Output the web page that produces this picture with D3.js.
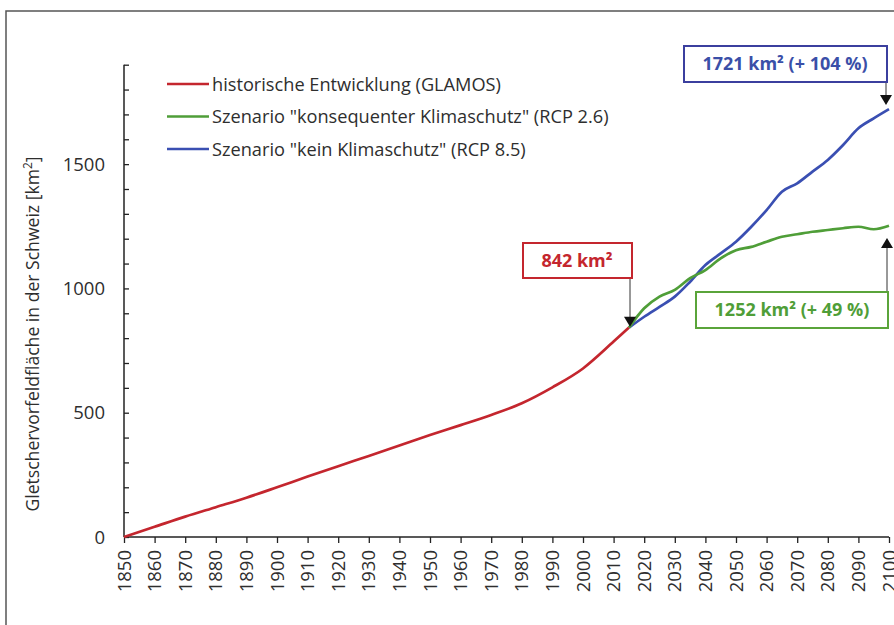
<!DOCTYPE html>
<html><head><meta charset="utf-8">
<script src="https://cdn.jsdelivr.net/npm/d3@7/dist/d3.min.js"></script>
<style>body{margin:0;background:#fff}svg{display:block}</style>
</head><body><svg id="c" width="894" height="625"></svg>
<script>
const histYears = [1850,1860,1870,1880,1890,1900,1910,1920,1930,1940,1950,1960,1970,1980,1990,2000,2010,2015];
const histValues = [0,41,82,120,158,200,243,285,326,368,410,450,491,538,602,678,786,842];
const scenYears = [2015,2020,2025,2030,2035,2040,2045,2050,2055,2060,2065,2070,2075,2080,2085,2090,2095,2100];
const rcp26 = [842,920,967,994,1041,1074,1121,1154,1167,1188,1208,1218,1228,1235,1242,1248,1238,1252];
const rcp85 = [842,886,926,967,1027,1094,1141,1188,1248,1315,1389,1423,1470,1517,1577,1644,1684,1721];
const xTicks = d3.range(1850, 2101, 10);
const yTicks = d3.range(0, 1901, 100);
const yLabels = [0,500,1000,1500];
const legendLabels = ['historische Entwicklung (GLAMOS)','Szenario "konsequenter Klimaschutz" (RCP 2.6)','Szenario "kein Klimaschutz" (RCP 8.5)'];
const colors = ['#c4262e','#4f9e38','#3a4fb2'];
const yTitle = 'Gletschervorfeldfläche in der Schweiz [km';

const svg = d3.select('#c');
const F = '"Open Sans", sans-serif';
const x = d3.scaleLinear().domain([1850,2100]).range([124,889]);
const y = d3.scaleLinear().domain([0,1900]).range([537,64.7]);

svg.append('path').attr('d','M6,625 V11 H894').attr('fill','none').attr('stroke','#555').attr('stroke-width',1.5);

const ya = svg.append('g').attr('transform','translate(124,0)')
  .call(d3.axisRight(y).tickValues(yTicks).tickSize(5).tickFormat(''));
ya.select('.domain').attr('stroke','#222').attr('stroke-width',1.5).attr('d','M0,'+y(1900)+'V'+y(0));
ya.selectAll('.tick line').attr('stroke','#222').attr('stroke-width',1.3);
svg.append('g').selectAll('text').data(yLabels).join('text')
  .attr('x',105).attr('y',d=>y(d)).attr('dy','0.36em').attr('text-anchor','end')
  .attr('font-family',F).attr('font-size',18.5).attr('fill','#2e2e2e').text(d=>d);

const xa = svg.append('g').attr('transform','translate(0,537)')
  .call(d3.axisBottom(x).tickValues(xTicks).tickSize(6).tickFormat(''));
xa.select('.domain').attr('stroke','#222').attr('stroke-width',1.5).attr('d','M'+x(1850)+',0H'+x(2100));
xa.selectAll('.tick line').attr('stroke','#222').attr('stroke-width',1.3);
svg.append('g').selectAll('text').data(xTicks).join('text')
  .attr('transform',d=>`translate(${x(d)},550) rotate(-90)`)
  .attr('dy','0.36em').attr('text-anchor','end')
  .attr('font-family',F).attr('font-size',18.5).attr('fill','#2e2e2e').text(d=>d);

const yt = svg.append('text').attr('transform','translate(39,334) rotate(-90)')
  .attr('text-anchor','middle').attr('font-family',F).attr('font-size',17.6).attr('fill','#2e2e2e');
yt.append('tspan').text(yTitle);
yt.append('tspan').attr('dy',-7).attr('font-size',12).text('2');
yt.append('tspan').attr('dy',7).text(']');

const line = d3.line().x(d=>x(d[0])).y(d=>y(d[1])).curve(d3.curveMonotoneX);
const series = [d3.zip(histYears,histValues), d3.zip(scenYears,rcp26), d3.zip(scenYears,rcp85)];
[2,1,0].forEach(i=>{
  svg.append('path').datum(series[i]).attr('d',line).attr('fill','none')
    .attr('stroke',colors[i]).attr('stroke-width',2.7).attr('stroke-linejoin','round');
});

legendLabels.forEach((t,i)=>{
  const ly = 84 + i*32.5;
  svg.append('line').attr('x1',167).attr('x2',209).attr('y1',ly).attr('y2',ly)
    .attr('stroke',colors[i]).attr('stroke-width',2.7);
  svg.append('text').attr('x',212).attr('y',ly).attr('dy','0.36em')
    .attr('font-family',F).attr('font-size',18.2).attr('fill','#2e2e2e').text(t);
});

function arrowHead(px, py, dir){
  svg.append('path').attr('d',`M${px-6},${py-10*dir} L${px+6},${py-10*dir} L${px},${py} Z`).attr('fill','#111');
}
function box(x0,y0,w,h,col,txtCol,txt,tx){
  svg.append('rect').attr('x',x0).attr('y',y0).attr('width',w).attr('height',h)
    .attr('fill','#fff').attr('stroke',col).attr('stroke-width',2);
  svg.append('text').attr('x',tx).attr('y',y0+h/2).attr('dy','0.36em').attr('text-anchor','middle')
    .attr('font-family',F).attr('font-weight','bold').attr('font-size',18).attr('fill',txtCol).text(txt);
}
svg.append('line').attr('x1',630).attr('x2',630).attr('y1',278).attr('y2',318).attr('stroke','#333').attr('stroke-width',1);
arrowHead(630, y(842)-1, 1);
box(523,243,109,35,colors[0],'#c4262e','842 km²',577);
svg.append('line').attr('x1',886).attr('x2',886).attr('y1',82).attr('y2',96).attr('stroke','#333').attr('stroke-width',1);
arrowHead(886, 105, 1);
box(684,46,203,36,'#3b3f9e','#3a4fa8','1721 km² (+ 104 %)',785);
svg.append('line').attr('x1',887).attr('x2',887).attr('y1',292).attr('y2',246).attr('stroke','#333').attr('stroke-width',1);
arrowHead(887, 238, -1);
box(696,292,192,36,'#5aa43a','#4f9e38','1252 km² (+ 49 %)',792);
</script></body></html>
